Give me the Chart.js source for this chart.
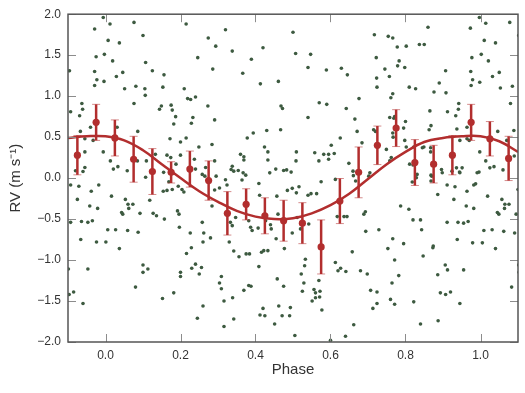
<!DOCTYPE html>
<html>
<head>
<meta charset="utf-8">
<script src="https://cdn.jsdelivr.net/npm/chart.js@4.4.1/dist/chart.umd.min.js"></script>
<style>
  body { margin: 0; background: #fff; }
  canvas { display: block; }
</style>
</head>
<body>
<canvas id="grafic" width="525" height="393"></canvas>
<script>
// punts individuals (fase, RV)
const puntsFase = [
  [-0.096,1.31],[-0.006,1.96],[0.012,1.88],[-0.029,1.82],[0.076,1.90],[0.007,1.68],[0.037,1.65],[0.10,1.74],
  [-0.025,1.48],[-0.003,1.51],[0.019,1.43],[0.107,1.41],[-0.029,1.30],[-0.023,1.20],[-0.004,1.18],[-0.029,1.13],
  [0.029,1.24],[0.046,1.29],[0.125,1.31],[0.156,1.26],[0.051,1.09],[0.081,1.12],[0.105,1.09],[0.106,1.01],
  [0.153,1.11],[0.21,1.09],[0.215,1.88],[0.246,1.47],[0.219,0.97],[0.227,0.96],[0.24,0.99],[-0.093,0.81],
  [-0.063,0.91],[-0.061,0.84],[-0.069,0.76],[-0.04,0.62],[-0.067,0.57],[-0.055,0.48],[-0.033,0.46],[0.076,0.91],
  [0.086,0.57],[0.031,0.62],[0.144,0.84],[0.149,0.88],[0.175,0.89],[0.178,0.83],[0.187,0.75],[0.182,0.66],
  [0.233,0.74],[0.229,0.67],[0.172,0.48],[0.20,0.44],[0.215,0.49],[0.249,0.38],[-0.055,0.32],[-0.006,0.32],
  [0.013,0.21],[0.033,0.14],[0.021,0.11],[0.058,0.09],[0.085,0.21],[0.109,0.21],[0.133,0.29],[0.155,0.07],
  [0.164,0.28],[0.174,0.25],[0.188,0.17],[0.20,0.28],[-0.08,0.09],[-0.055,0.13],[-0.06,0.08],[0.24,0.11],
  [-0.093,-0.085],[-0.071,-0.10],[-0.075,-0.26],[-0.038,-0.16],[-0.018,-0.085],[0.016,-0.22],[-0.093,-0.54],[-0.064,-0.53],
  [-0.047,-0.54],[-0.035,-0.52],[-0.042,-0.34],[-0.021,-0.37],[-0.066,-0.75],[-0.024,-0.78],[0.001,-0.78],[0.006,-0.63],
  [0.027,-0.63],[0.037,-0.86],[0.043,-0.42],[0.046,-0.44],[0.053,-0.26],[0.06,-0.32],[0.062,-0.37],[0.073,-0.32],
  [0.059,-0.64],[0.087,-0.66],[0.092,-0.43],[-0.099,-1.11],[-0.047,-1.11],[-0.097,-1.42],[-0.085,-1.39],[-0.06,-1.53],
  [0.08,-1.33],[0.10,-1.06],[0.10,-1.15],[0.113,-1.11],[0.107,0.01],[0.118,-0.27],[0.127,-0.43],[0.136,-0.46],
  [0.157,-0.50],[0.154,-0.16],[0.164,-0.15],[0.178,-0.14],[0.169,-0.045],[0.194,-0.10],[0.204,-0.14],[0.209,-0.17],
  [0.192,-0.40],[0.196,-0.44],[0.197,-0.60],[0.226,-0.67],[0.229,-0.85],[0.216,-0.92],[0.24,-1.05],[0.23,-1.10],
  [0.25,-1.17],[0.20,-1.15],[0.20,-1.20],[0.182,-1.40],[0.152,-1.47],[0.245,-1.71],[0.505,-1.92],[0.64,-1.93],
  [0.60,-1.98],[0.32,1.81],[0.274,1.71],[0.294,1.61],[0.338,1.55],[0.286,1.33],[0.389,1.45],[0.42,1.59],
  [0.366,1.28],[0.413,1.15],[0.461,1.18],[0.50,1.78],[0.507,1.52],[0.547,1.51],[0.54,1.35],[0.589,1.32],
  [0.629,1.34],[0.645,1.26],[0.676,0.97],[0.273,0.88],[0.291,0.71],[0.468,0.88],[0.472,0.85],[0.54,0.74],
  [0.57,0.92],[0.59,0.90],[0.642,0.85],[0.665,0.72],[0.467,0.59],[0.43,0.58],[0.394,0.55],[0.378,0.49],
  [0.284,0.41],[0.424,0.38],[0.433,0.32],[0.433,0.22],[0.36,0.29],[0.369,0.26],[0.369,0.22],[0.338,0.145],
  [0.335,0.105],[0.342,0.085],[0.354,0.093],[0.367,0.064],[0.374,0.036],[0.267,0.13],[0.258,0.045],[0.265,0.024],
  [0.291,0.21],[0.295,0.024],[0.32,-0.02],[0.237,0.23],[0.509,0.32],[0.508,0.21],[0.438,0.064],[0.454,0.11],
  [0.475,0.093],[0.483,0.10],[0.495,0.073],[0.558,0.31],[0.569,0.21],[0.582,0.29],[0.595,0.29],[0.61,0.30],
  [0.602,0.40],[0.595,0.23],[0.626,0.49],[0.671,0.57],[0.649,0.18],[0.66,0.085],[0.661,0.03],[0.86,1.84],
  [0.717,1.75],[0.754,1.73],[0.766,1.71],[0.802,1.61],[0.778,1.60],[0.837,1.63],[0.85,1.63],[0.973,1.83],
  [0.997,1.96],[1.014,1.89],[1.078,1.90],[1.102,1.74],[1.01,1.68],[1.04,1.65],[0.722,1.47],[0.783,1.43],
  [0.779,1.37],[0.798,1.35],[0.745,1.33],[0.723,1.22],[0.757,1.24],[0.907,1.31],[0.977,1.47],[1.002,1.51],
  [1.021,1.43],[0.974,1.30],[0.979,1.20],[0.998,1.17],[0.975,1.13],[1.032,1.24],[1.05,1.29],[1.053,1.10],
  [1.085,1.12],[1.08,0.91],[0.81,1.11],[0.827,1.09],[0.89,1.16],[0.876,1.05],[0.908,1.04],[0.766,1.03],
  [0.761,0.98],[0.724,1.11],[0.865,0.82],[0.912,0.81],[0.941,0.84],[0.942,0.91],[0.934,0.76],[0.758,0.74],
  [0.769,0.73],[0.771,0.75],[0.80,0.69],[0.868,0.64],[0.863,0.59],[0.937,0.60],[0.964,0.62],[0.715,0.59],
  [0.72,0.57],[0.766,0.55],[0.767,0.50],[0.795,0.61],[1.089,0.58],[0.684,0.43],[0.798,0.46],[0.802,0.38],
  [0.849,0.38],[0.867,0.37],[0.867,0.32],[0.749,0.35],[0.945,0.46],[0.964,0.48],[0.97,0.46],[0.998,0.32],
  [1.046,0.57],[1.07,0.46],[1.09,0.27],[1.014,0.21],[1.036,0.14],[1.025,0.125],[1.06,0.10],[0.996,0.073],
  [0.936,0.125],[0.951,0.125],[0.924,0.085],[0.944,0.073],[0.822,0.38],[0.845,0.37],[0.82,0.16],[0.811,0.17],
  [0.87,0.024],[0.896,0.105],[0.831,0.045],[0.758,0.21],[0.705,0.064],[0.702,0.024],[0.762,0.25],[0.324,-0.085],
  [0.364,-0.024],[0.409,-0.065],[0.304,-0.12],[0.291,-0.145],[0.284,-0.34],[0.411,-0.21],[0.457,-0.22],[0.485,-0.15],
  [0.498,-0.125],[0.509,-0.18],[0.516,-0.105],[0.54,-0.21],[0.548,-0.19],[0.563,-0.19],[0.575,-0.045],[0.613,-0.016],
  [0.667,-0.036],[0.333,-0.54],[0.347,-0.48],[0.338,-0.58],[0.258,-0.54],[0.262,-0.67],[0.26,-0.78],[0.28,-0.73],
  [0.382,-0.52],[0.387,-0.60],[0.391,-0.64],[0.407,-0.61],[0.46,-0.44],[0.427,-0.52],[0.44,-0.57],[0.442,-0.62],
  [0.455,-0.74],[0.498,-0.67],[0.511,-0.48],[0.52,-0.62],[0.542,-0.56],[0.477,-0.86],[0.33,-0.78],[0.342,-0.89],
  [0.356,-0.96],[0.375,-0.925],[0.384,-0.925],[0.416,-0.905],[0.422,-0.885],[0.433,-0.885],[0.409,-1.08],[0.256,-1.09],
  [0.309,-1.2],[0.304,-1.28],[0.309,-1.35],[0.316,-1.5],[0.382,-1.31],[0.388,-1.32],[0.369,-1.37],[0.339,-1.46],
  [0.26,-1.56],[0.316,-1.81],[0.342,-1.72],[0.42,-1.59],[0.412,-1.67],[0.425,-1.68],[0.451,-1.78],[0.462,-1.56],
  [0.471,-1.68],[0.493,-1.58],[0.491,-1.68],[0.458,-1.23],[0.475,-1.32],[0.533,-0.99],[0.531,-1.07],[0.522,-1.17],
  [0.529,-1.28],[0.525,-1.38],[0.556,-1.36],[0.56,-1.40],[0.572,-1.38],[0.56,-1.46],[0.571,-1.45],[0.551,-1.50],
  [0.569,-1.25],[0.577,-1.61],[0.613,-1.03],[0.62,-1.13],[0.641,-1.14],[0.627,-1.10],[0.658,-0.90],[0.618,-0.47],
  [0.636,-0.47],[0.644,-0.47],[0.662,-1.79],[0.818,-0.048],[0.829,0.004],[0.868,0.036],[0.868,-0.036],[0.898,0.065],
  [0.945,0.065],[0.991,0.065],[0.911,-0.085],[0.932,-0.105],[0.964,-0.16],[0.982,-0.085],[0.987,-0.07],[0.886,-0.20],
  [0.929,-0.26],[1.019,-0.22],[1.057,-0.26],[1.065,-0.32],[1.076,-0.32],[1.064,-0.37],[0.962,-0.34],[0.982,-0.37],
  [1.045,-0.42],[1.049,-0.44],[1.095,-0.44],[1.10,-0.14],[0.787,-0.34],[0.809,-0.38],[0.82,-0.51],[0.84,-0.51],
  [0.843,-0.63],[0.911,-0.54],[0.94,-0.54],[0.955,-0.55],[0.967,-0.53],[1.009,-0.64],[1.031,-0.63],[1.062,-0.65],
  [1.091,-0.67],[0.694,-0.65],[0.729,-0.63],[0.689,-0.44],[0.693,-0.41],[0.766,-0.74],[0.753,-0.86],[0.795,-0.80],
  [0.938,-0.75],[0.979,-0.79],[1.005,-0.79],[1.04,-0.86],[0.874,-0.83],[0.873,-0.85],[0.847,-0.95],[0.771,-1.0],
  [0.906,-1.06],[0.912,-1.12],[0.955,-1.12],[0.886,-1.18],[0.782,-1.19],[0.68,-1.13],[0.698,-1.17],[0.764,-1.28],
  [0.707,-1.37],[0.724,-1.39],[0.76,-1.48],[0.771,-1.54],[0.713,-1.59],[0.724,-1.53],[0.822,-1.51],[0.893,-1.40],
  [0.907,-1.42],[0.92,-1.39],[0.945,-1.53],[1.083,-1.33],[1.102,-1.06],[1.103,-1.15],[0.84,-1.78],[0.887,-1.74]
];

// punts agrupats (bins) amb barres d'error
const binFase = [-0.075,-0.025,0.025,0.075,0.125,0.175,0.225,0.275,0.325,0.375,0.425,0.475,
                 0.525,0.575,0.625,0.675,0.725,0.775,0.825,0.875,0.925,0.975,1.025,1.075];
const binRV   = [0.28,0.68,0.49,0.23,0.08,0.07,0.11,-0.03,-0.43,-0.32,-0.46,-0.52,
                 -0.55,-0.84,-0.28,0.07,0.40,0.61,0.19,0.17,0.28,0.68,0.48,0.24];
const binErr  = [0.24,0.22,0.22,0.28,0.28,0.13,0.22,0.24,0.265,0.19,0.22,0.25,
                 0.25,0.33,0.275,0.31,0.235,0.225,0.28,0.23,0.24,0.22,0.21,0.27];

// corba del model
const corbaFase = [-0.10,-0.05,0.00,0.05,0.10,0.15,0.20,0.25,0.30,0.35,0.40,0.45,0.50,
                   0.55,0.60,0.65,0.70,0.75,0.80,0.85,0.90,0.95,1.00,1.05,1.10];
const corbaRV   = [0.49,0.51,0.51,0.46,0.34,0.17,0.00,-0.16,-0.29,-0.40,-0.47,-0.50,-0.49,
                   -0.43,-0.33,-0.19,-0.01,0.17,0.32,0.44,0.49,0.51,0.51,0.45,0.32];

const xTicks = [0.0,0.2,0.4,0.6,0.8,1.0];

const VERMELL = '#b22e2e';
const VERD = '#3d5a40';
const FONT = "'Liberation Sans', Arial, sans-serif";

// barres d'error, dibuixades just abans dels punts vermells
const barresError = {
  id: 'barresError',
  beforeDatasetDraw(chart, args) {
    if (args.index !== 2) return;
    const ctx = chart.ctx;
    const x = chart.scales.x, y = chart.scales.y;
    ctx.save();
    binFase.forEach((f, i) => {
      const px = x.getPixelForValue(f);
      const yTop = y.getPixelForValue(binRV[i] + binErr[i]);
      const yBot = y.getPixelForValue(binRV[i] - binErr[i]);
      ctx.strokeStyle = VERMELL;
      ctx.lineWidth = 2.5;
      ctx.beginPath(); ctx.moveTo(px, yTop); ctx.lineTo(px, yBot); ctx.stroke();
      ctx.strokeStyle = 'rgba(178,46,46,0.55)';
      ctx.lineWidth = 1;
      ctx.beginPath();
      ctx.moveTo(px - 4, yTop); ctx.lineTo(px + 4, yTop);
      ctx.moveTo(px - 4, yBot); ctx.lineTo(px + 4, yBot);
      ctx.stroke();
    });
    ctx.restore();
  }
};

// marc i ticks cap a dins a tots quatre costats
const marcTicks = {
  id: 'marcTicks',
  afterDatasetsDraw(chart) {
    const ctx = chart.ctx, a = chart.chartArea;
    const x = chart.scales.x, y = chart.scales.y;
    ctx.save();
    ctx.strokeStyle = '#8c8c8c';
    ctx.lineWidth = 1;
    ctx.beginPath();
    x.ticks.forEach(t => {
      const px = Math.round(x.getPixelForValue(t.value)) + 0.5;
      ctx.moveTo(px, a.bottom); ctx.lineTo(px, a.bottom - 8);
      ctx.moveTo(px, a.top); ctx.lineTo(px, a.top + 8);
    });
    y.ticks.forEach(t => {
      const py = Math.round(y.getPixelForValue(t.value)) + 0.5;
      ctx.moveTo(a.left, py); ctx.lineTo(a.left + 8, py);
      ctx.moveTo(a.right, py); ctx.lineTo(a.right - 8, py);
    });
    ctx.stroke();
    ctx.strokeStyle = '#555';
    ctx.lineWidth = 1.5;
    ctx.strokeRect(a.left, a.top, a.right - a.left, a.bottom - a.top);
    ctx.restore();
  }
};

const config = {
  type: 'scatter',
  data: {
    datasets: [
      {
        label: 'RV',
        data: puntsFase.map(p => ({ x: p[0], y: p[1] })),
        backgroundColor: VERD,
        borderWidth: 0,
        pointRadius: 1.8,
        pointHoverRadius: 1.8,
        order: 3
      },
      {
        type: 'line',
        label: 'model',
        data: corbaFase.map((f, i) => ({ x: f, y: corbaRV[i] })),
        borderColor: VERMELL,
        borderWidth: 2.5,
        pointRadius: 0,
        tension: 0.4,
        fill: false,
        order: 2
      },
      {
        label: 'bins',
        data: binFase.map((f, i) => ({ x: f, y: binRV[i] })),
        backgroundColor: VERMELL,
        borderWidth: 0,
        pointRadius: 3.6,
        pointHoverRadius: 3.6,
        order: 1
      }
    ]
  },
  options: {
    responsive: false,
    animation: false,
    devicePixelRatio: 1,
    layout: { padding: { top: 12, right: 7, left: 0, bottom: 0 } },
    plugins: { legend: { display: false }, tooltip: { enabled: false } },
    scales: {
      x: {
        type: 'linear',
        min: -0.1,
        max: 1.1,
        grid: { display: false, drawTicks: false },
        border: { display: false },
        afterBuildTicks: s => { s.ticks = xTicks.map(v => ({ value: v })); },
        afterFit: s => { s.height = 51; },
        ticks: {
          padding: 6,
          color: '#333',
          font: { family: FONT, size: 12 },
          callback: v => Number(v).toFixed(1)
        },
        title: {
          display: true,
          text: 'Phase',
          color: '#333',
          font: { family: FONT, size: 15 },
          padding: { top: 0, bottom: 14 }
        }
      },
      y: {
        min: -2,
        max: 2,
        grid: { display: false, drawTicks: false },
        border: { display: false },
        afterFit: s => { s.width = 68; },
        ticks: {
          stepSize: 0.5,
          padding: 7,
          color: '#333',
          font: { family: FONT, size: 12 },
          callback: v => Number(v).toFixed(1).replace('-', '\u2212')
        },
        title: {
          display: true,
          text: 'RV (m s\u207B\u00B9)',
          color: '#333',
          font: { family: FONT, size: 15 },
          padding: { top: 7, bottom: 0 }
        }
      }
    }
  },
  plugins: [barresError, marcTicks]
};

new Chart(document.getElementById('grafic'), config);
</script>
</body>
</html>
